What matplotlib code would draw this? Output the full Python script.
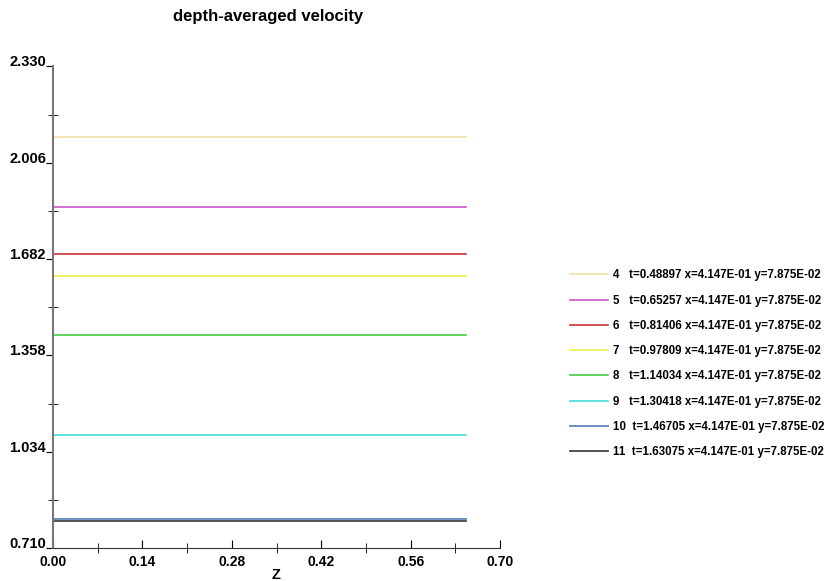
import matplotlib
matplotlib.use("Agg")
import matplotlib.pyplot as plt
from matplotlib.ticker import FixedLocator

plt.rcParams['font.family'] = ['Liberation Sans', 'DejaVu Sans']
plt.rcParams['font.weight'] = 'bold'

# data
steps = ['4', '5', '6', '7', '8', '9', '10', '11']
times = ['0.48897', '0.65257', '0.81406', '0.97809', '1.14034', '1.30418', '1.46705', '1.63075']
velocity = [2.091, 1.856, 1.698, 1.624, 1.426, 1.090, 0.806, 0.800]
z_start = 0.0
z_end = 0.647
colors = ['#f3dfa8', '#cc55cc', '#cc3333', '#eeee44', '#44cc44', '#44dddd', '#6f8fc0', '#333333']

y_ticks = [0.710, 1.034, 1.358, 1.682, 2.006, 2.330]
x_ticks = [0.00, 0.14, 0.28, 0.42, 0.56, 0.70]

fig = plt.figure(figsize=(8.3, 5.81), dpi=100)
ax = fig.add_axes([0.0639, 0.0568, 0.5386, 0.829])

for s, t, v, c in zip(steps, times, velocity, colors):
    pad = '   ' if len(s) == 1 else '  '
    lab = f'{s}{pad}t={t} x=4.147E-01 y=7.875E-02'
    ax.plot([z_start, z_end], [v, v], color=c, lw=1.4 if s == '10' else 1.2, label=lab)

ax.set_xlim(0, 0.70)
ax.set_ylim(0.710, 2.330)
ax.spines['top'].set_visible(False)
ax.spines['right'].set_visible(False)
ax.spines['left'].set_color('#777777')
ax.spines['left'].set_linewidth(1.5)
ax.spines['bottom'].set_color('#333333')

ax.yaxis.set_major_locator(FixedLocator(y_ticks))
ax.yaxis.set_minor_locator(FixedLocator([(a + b) / 2 for a, b in zip(y_ticks[:-1], y_ticks[1:])]))
ax.xaxis.set_major_locator(FixedLocator(x_ticks))
ax.xaxis.set_minor_locator(FixedLocator([(a + b) / 2 for a, b in zip(x_ticks[:-1], x_ticks[1:])]))
ax.set_yticklabels([f'{v:.3f}' for v in y_ticks])
ax.set_xticklabels([f'{v:.2f}' for v in x_ticks])

ax.tick_params(axis='y', which='major', direction='out', length=5, labelsize=10.5, pad=0)
ax.tick_params(axis='y', which='minor', direction='inout', length=7)
ax.tick_params(axis='x', which='major', direction='in', length=6, labelsize=10, pad=5)
ax.tick_params(axis='x', which='minor', direction='inout', length=7)
for lbl in ax.get_yticklabels():
    lbl.set_verticalalignment('baseline')

ax.set_xlabel('Z', fontsize=10.5, fontweight='bold', labelpad=-1)
fig.text(268 / 830, 1 - 17 / 581, 'depth-averaged velocity', ha='center', va='center',
         fontsize=12, fontweight='bold')

fig.legend(loc='center left', bbox_to_anchor=(0.687, 0.374), bbox_transform=fig.transFigure,
           frameon=False, fontsize=8.3, handlelength=3.3, handletextpad=0.4, labelspacing=1.15,
           borderpad=0, borderaxespad=0)

fig.savefig('out.png', dpi=100)
